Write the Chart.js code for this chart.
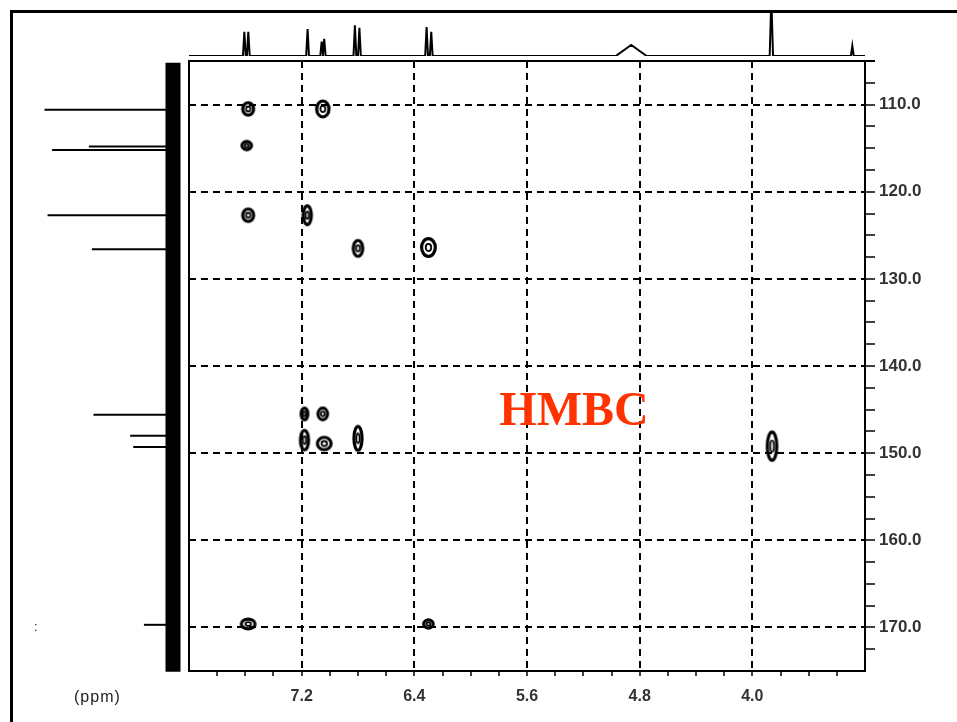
<!DOCTYPE html>
<html>
<head>
<meta charset="utf-8">
<title>HMBC</title>
<script src="https://cdn.jsdelivr.net/npm/chart.js@4.4.1/dist/chart.umd.min.js"></script>
<style>
  html, body { margin: 0; padding: 0; background: #fff; }
  body { width: 957px; height: 722px; position: relative; overflow: hidden; font-family: "Liberation Sans", Arial, sans-serif; }
  canvas { position: absolute; left: 0; top: 0; }
  #frame { position: absolute; left: 10px; top: 10px; width: 980px; height: 740px; border-top: 3px solid #000; border-left: 3px solid #000; }
  #title { position: absolute; left: 474px; top: 385px; width: 200px; text-align: center; font: bold 48px "Liberation Serif", "Times New Roman", serif; line-height: 1; color: #ff3300; }
  #unit { position: absolute; left: 74px; top: 688px; font: 16px "Liberation Sans", Arial, sans-serif; letter-spacing: 1px; color: #222; }
  #mark { position: absolute; left: 34px; top: 619px; font: 13px "Liberation Sans", Arial, sans-serif; color: #222; }
</style>
</head>
<body>
<div id="frame"></div>
<canvas id="carbon" width="957" height="722"></canvas>
<canvas id="proton" width="957" height="61"></canvas>
<canvas id="hmbc" width="957" height="722"></canvas>
<div id="title">HMBC</div>
<div id="unit">(ppm)</div>
<div id="mark">:</div>
<script>
// ---- axis ticks (ppm) ----
const xTicks = [7.8, 7.6, 7.4, 7.2, 7.0, 6.8, 6.6, 6.4, 6.2, 6.0, 5.8, 5.6, 5.4, 5.2, 5.0, 4.8, 4.6, 4.4, 4.2, 4.0, 3.8, 3.6, 3.4];
const xLabels = [7.2, 6.4, 5.6, 4.8, 4.0];
const yTicks = [107.5, 110, 112.5, 115, 117.5, 120, 122.5, 125, 127.5, 130, 132.5, 135, 137.5, 140, 142.5, 145, 147.5, 150, 152.5, 155, 157.5, 160, 162.5, 165, 167.5, 170, 172.5];
const yLabels = [110, 120, 130, 140, 150, 160, 170];

// ---- HMBC cross peaks: 1H shift, 13C shift, contour extent in each dimension (ppm) ----
const crossH     = [7.58, 7.05, 7.59, 7.58, 7.16, 6.80, 6.30, 7.18, 7.05, 7.18, 7.04, 6.80, 3.86, 7.58, 6.30];
const crossC     = [110.5, 110.5, 114.7, 122.7, 122.7, 126.5, 126.4, 145.5, 145.5, 148.5, 148.9, 148.3, 149.2, 169.6, 169.6];
const crossSpanH = [0.10, 0.11, 0.09, 0.10, 0.08, 0.09, 0.12, 0.07, 0.09, 0.08, 0.12, 0.08, 0.09, 0.12, 0.09];
const crossSpanC = [1.8, 2.2, 1.3, 1.8, 2.5, 2.2, 2.4, 1.7, 1.7, 2.6, 1.8, 3.1, 3.6, 1.5, 1.3];

// ---- 1H projection: line positions (ppm), relative heights, half widths (ppm) ----
const hPpm    = [7.607, 7.579, 7.158, 7.058, 7.040, 6.822, 6.790, 6.313, 6.280, 4.860, 3.865, 3.290];
const hHeight = [0.55, 0.55, 0.61, 0.33, 0.39, 0.70, 0.64, 0.66, 0.55, 0.25, 1.30, 0.23];
const hHalfW  = [0.010, 0.010, 0.010, 0.010, 0.010, 0.010, 0.010, 0.010, 0.010, 0.110, 0.012, 0.010];

// ---- 13C projection: line positions (ppm) and relative heights ----
const cPpm    = [110.6, 114.8, 115.2, 122.7, 126.6, 145.6, 148.0, 149.3, 169.7];
const cHeight = [0.84, 0.55, 0.79, 0.82, 0.53, 0.52, 0.28, 0.26, 0.19];

Chart.defaults.font.family = '"Liberation Sans", Arial, sans-serif';
Chart.defaults.animation = false;

const isIn = (arr, v) => arr.some(a => Math.abs(a - v) < 1e-6);

// contour ring image of the given pixel size
function contourImage(w, h) {
  const c = document.createElement('canvas');
  const pad = 2;
  c.width = Math.ceil(w) + pad * 2;
  c.height = Math.ceil(h) + pad * 2;
  const g = c.getContext('2d');
  const cx = c.width / 2, cy = c.height / 2;
  const rx = Math.max(w / 2 - 1.6, 1.2), ry = Math.max(h / 2 - 1.6, 1.2);
  g.strokeStyle = '#000';
  g.lineWidth = 3.2;
  g.beginPath(); g.ellipse(cx, cy, rx, ry, 0, 0, Math.PI * 2); g.stroke();
  g.lineWidth = 1.8;
  g.beginPath(); g.ellipse(cx, cy, Math.max(rx * 0.4, 0.8), Math.max(ry * 0.4, 0.8), 0, 0, Math.PI * 2); g.stroke();
  return c;
}

// left and top edges of the 2D plot box
const boxPlugin = {
  id: 'box',
  beforeDatasetsDraw(chart) {
    const { ctx, chartArea: a } = chart;
    ctx.save();
    ctx.strokeStyle = '#000';
    ctx.lineWidth = 2;
    ctx.beginPath();
    ctx.moveTo(a.left, a.bottom);
    ctx.lineTo(a.left, a.top);
    ctx.lineTo(a.right + 10, a.top);
    ctx.stroke();
    ctx.restore();
  }
};

// ---- 2D HMBC map ----
new Chart(document.getElementById('hmbc'), {
  type: 'scatter',
  data: {
    datasets: [{
      data: crossH.map((h, i) => ({ x: h, y: crossC[i] })),
      pointRadius: 4,
      pointHoverRadius: 4,
      pointStyle: (ctx) => {
        const i = ctx.dataIndex;
        if (i === undefined) return 'circle';
        const sx = ctx.chart.scales.x, sy = ctx.chart.scales.y;
        const w = Math.abs(sx.getPixelForValue(crossH[i] - crossSpanH[i] / 2) - sx.getPixelForValue(crossH[i] + crossSpanH[i] / 2));
        const h = Math.abs(sy.getPixelForValue(crossC[i] - crossSpanC[i] / 2) - sy.getPixelForValue(crossC[i] + crossSpanC[i] / 2));
        return contourImage(w, h);
      }
    }]
  },
  options: {
    responsive: false,
    events: [],
    layout: { padding: { left: 189, top: 61, right: 0, bottom: 0 } },
    plugins: { legend: { display: false }, tooltip: { enabled: false } },
    scales: {
      x: {
        type: 'linear', position: 'bottom', min: 3.2, max: 8.0, reverse: true,
        afterBuildTicks: s => { s.ticks = xTicks.map(v => ({ value: v })); },
        afterFit: s => { s.height = 51; },
        ticks: {
          autoSkip: false, maxRotation: 0, padding: 11, color: '#333',
          font: { size: 16, weight: 'bold' },
          callback: v => isIn(xLabels, v) ? v.toFixed(1) : ''
        },
        grid: {
          color: c => (c.tick && isIn(xLabels, c.tick.value)) ? '#000' : 'rgba(0,0,0,0)',
          lineWidth: 2, tickColor: '#000', tickLength: 5, tickWidth: 1.5
        },
        border: { display: true, color: '#000', width: 2, dash: [7, 5] }
      },
      y: {
        type: 'linear', position: 'right', min: 105, max: 175, reverse: true,
        afterBuildTicks: s => { s.ticks = yTicks.map(v => ({ value: v })); },
        afterFit: s => { s.width = 92; },
        ticks: {
          autoSkip: false, padding: 4, color: '#333',
          font: { size: 17, weight: 'bold' },
          callback: v => isIn(yLabels, v) ? v.toFixed(1) : ''
        },
        grid: {
          color: c => (c.tick && isIn(yLabels, c.tick.value)) ? '#000' : 'rgba(0,0,0,0)',
          lineWidth: 2, tickColor: '#000', tickLength: 10, tickWidth: 1.5
        },
        border: { display: true, color: '#000', width: 2, dash: [7, 5] }
      }
    }
  },
  plugins: [boxPlugin]
});

// ---- 1H projection along the top ----
const hData = [{ x: 8.0, y: 0 }];
hPpm.forEach((p, i) => {
  hData.push({ x: p + hHalfW[i], y: 0 }, { x: p, y: hHeight[i] }, { x: p - hHalfW[i], y: 0 });
});
hData.push({ x: 3.2, y: 0 });

new Chart(document.getElementById('proton'), {
  type: 'scatter',
  data: { datasets: [{ data: hData, showLine: true, pointRadius: 0, borderColor: '#000', borderWidth: 2, tension: 0 }] },
  options: {
    responsive: false,
    events: [],
    layout: { padding: { left: 189, right: 92, top: 12, bottom: 5 } },
    plugins: { legend: { display: false }, tooltip: { enabled: false } },
    scales: {
      x: { type: 'linear', min: 3.2, max: 8.0, reverse: true, display: false },
      y: { type: 'linear', min: 0, max: 1, display: false }
    }
  }
});

// ---- 13C projection along the left ----
const carbonSets = [{
  data: [{ x: 0, y: 105.2 }, { x: 0, y: 175.1 }],
  showLine: true, pointRadius: 0, borderColor: '#000', borderWidth: 15, clip: false
}];
cPpm.forEach((p, i) => {
  carbonSets.push({
    data: [{ x: 0, y: p }, { x: cHeight[i], y: p }],
    showLine: true, pointRadius: 0, borderColor: '#000', borderWidth: 2, clip: false
  });
});

new Chart(document.getElementById('carbon'), {
  type: 'scatter',
  data: { datasets: carbonSets },
  options: {
    responsive: false,
    events: [],
    layout: { padding: { left: 20, right: 784, top: 61, bottom: 51 } },
    plugins: { legend: { display: false }, tooltip: { enabled: false } },
    scales: {
      x: { type: 'linear', min: 0, max: 1, reverse: true, display: false },
      y: { type: 'linear', min: 105, max: 175, reverse: true, display: false }
    }
  }
});
</script>
</body>
</html>
